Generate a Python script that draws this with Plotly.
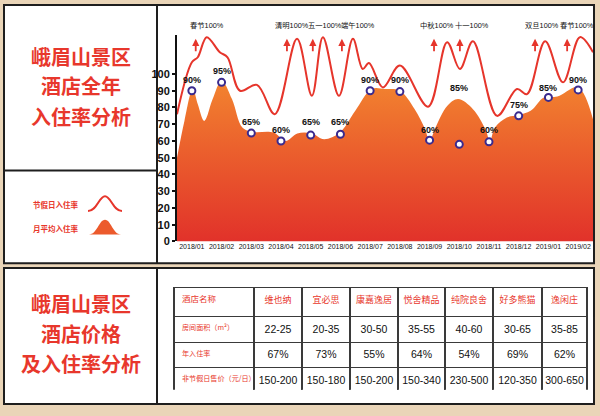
import plotly.graph_objects as go

# ---------------- data ----------------
months = ["2018/01", "2018/02", "2018/03", "2018/04", "2018/05", "2018/06", "2018/07",
          "2018/08", "2018/09", "2018/10", "2018/11", "2018/12", "2019/01", "2019/02"]
avg_labels = [90, 95, 65, 60, 65, 65, 90, 90, 60, 85, 60, 75, 85, 90]
marker_vals = [90, 95, 64.7, 60, 63.5, 64, 90, 89.5, 60.5, 58, 59.5, 75, 86, 90.5]

# monthly average curve (month index units)
area_x = [-0.5, -0.25, 0.03, 0.2, 0.42, 0.7, 1.0, 1.35, 1.7, 2.05, 2.75, 3.15, 3.55, 4.04,
          4.45, 4.98, 5.5, 6.05, 6.5, 7.0, 7.5, 7.85, 8.0, 8.2, 8.6, 8.96, 9.46, 9.88,
          10.03, 10.2, 10.6, 11.0, 11.4, 11.85, 12.3, 13.0, 13.5]
area_y = [50, 72, 91, 82, 72, 85, 96, 85, 68, 65.5, 65, 60, 64.5, 64.5,
          61, 65, 78, 91, 91, 90, 79, 67, 60, 68, 81, 85, 79, 67,
          60, 68, 74, 75.5, 78, 86, 86.5, 92, 73]

# holiday occupancy curve
holiday_x = [-0.5, 0.0, 0.2, 0.5, 0.94, 1.2, 1.62, 2.19, 2.79, 3.54, 4.04, 4.41, 4.95, 5.42,
             5.75, 5.96, 6.43, 7.0, 7.95, 8.59, 9.02, 9.46, 10.27, 10.94, 11.28, 11.89,
             12.49, 13.06, 13.5]
holiday_y = [76, 107, 110, 122, 113, 110, 90, 93.5, 76, 121, 87, 122, 87, 121,
             103, 106.5, 92, 105, 80.5, 119, 103, 119.5, 75, 91, 88, 119.5,
             95, 122, 113]

holiday_names = ["春节", "清明", "五一", "端午", "中秋", "十一", "双旦", "春节"]
holiday_label_x = [0.5, 3.37, 4.48, 5.6, 8.25, 9.43, 11.78, 12.96]
holiday_arrow_x = [0.13, 3.2, 4.07, 5.05, 8.15, 9.02, 11.55, 12.63]

hotels = ["维也纳", "宜必思", "康嘉逸居", "悦舍精品", "纯院良舍", "好多熊猫", "逸闲庄"]
row_labels = ["房间面积（m²）", "年入住率", "非节假日售价（元/日）"]
room_area = ["22-25", "20-35", "30-50", "35-55", "40-60", "30-65", "35-85"]
occupancy = ["67%", "73%", "55%", "64%", "54%", "69%", "62%"]
price = ["150-200", "150-180", "150-200", "150-340", "230-500", "120-350", "300-650"]

title_top = ["峨眉山景区", "酒店全年", "入住率分析"]
title_bottom = ["峨眉山景区", "酒店价格", "及入住率分析"]
legend_texts = ["节假日入住率", "月平均入住率"]

# ---------------- styling ----------------
W, H = 600, 416
RED = "#E6352B"
TXT_RED = "#E8372C"
NARROW = "Liberation Sans Narrow, Liberation Sans, Arial, sans-serif"
CJK = "Noto Sans CJK SC, sans-serif"


def px(x):
    return x / W


def py(y):
    return 1 - y / H


fig = go.Figure()

fig.add_trace(go.Scatter(
    x=area_x, y=area_y, mode="lines",
    line=dict(color="rgba(0,0,0,0)", width=0, shape="spline", smoothing=1),
    fill="tozeroy",
    fillgradient=dict(type="vertical", colorscale=[[0, "#E1302A"], [1, "#F2822F"]],
                      start=0, stop=95),
    hoverinfo="skip", showlegend=False))

fig.add_trace(go.Scatter(
    x=holiday_x, y=holiday_y, mode="lines",
    line=dict(color=RED, width=2, shape="spline", smoothing=1),
    hoverinfo="skip", showlegend=False))

fig.add_trace(go.Scatter(
    x=list(range(len(months))), y=marker_vals, mode="markers",
    marker=dict(size=7, color="white", line=dict(color="#3A2A8E", width=2)),
    showlegend=False, cliponaxis=False))

# table
fig.add_trace(go.Table(
    domain=dict(x=[px(174), px(587)], y=[py(396), py(292)]),
    columnwidth=[80, 48, 48, 48, 47, 48, 49, 45],
    header=dict(values=["酒店名称"] + hotels,
                align=["left"] + ["center"] * 7,
                font=dict(family=CJK, size=[8.5] + [9] * 7, color=TXT_RED),
                fill_color="white", line=dict(color="#3a3a3a", width=1.3), height=29),
    cells=dict(values=[row_labels] + [[a, o, p] for a, o, p in zip(room_area, occupancy, price)],
               align=["left"] + ["center"] * 7,
               font=dict(family=[CJK] + [NARROW] * 7,
                         size=[7.1] + [10.5] * 7,
                         color=[TXT_RED] + ["#111"] * 7),
               fill_color="white", line=dict(color="#3a3a3a", width=1.3), height=25.5)))

annotations = []
for i, v in enumerate(avg_labels):
    annotations.append(dict(x=i, y=v, xref="x", yref="y", text=f"{v}%", showarrow=False,
                            yshift=11, font=dict(family=NARROW, size=9, color="#111", weight="bold")))
for name, lx in zip(holiday_names, holiday_label_x):
    annotations.append(dict(x=lx, y=py(26), xref="x", yref="paper", xanchor="center",
                            yanchor="middle", text=f"{name}100%", showarrow=False,
                            font=dict(family=NARROW + ", " + CJK, size=7.3, color="#111")))
for ax_ in holiday_arrow_x:
    annotations.append(dict(x=ax_, y=121, xref="x", yref="y", text="", showarrow=True,
                            ax=0, ay=14, arrowhead=2, arrowsize=0.8, arrowwidth=1.8, arrowcolor=RED))
for k, t in enumerate(title_top):
    annotations.append(dict(x=px(80.5), y=py([57, 87, 118][k]), xref="paper", yref="paper",
                            xanchor="center", yanchor="middle", text=t, showarrow=False,
                            font=dict(family=CJK, size=20, color=TXT_RED, weight="bold")))
for k, t in enumerate(title_bottom):
    annotations.append(dict(x=px(80.5), y=py([308, 338, 369][k]), xref="paper", yref="paper",
                            xanchor="center", yanchor="middle", text=t, showarrow=False,
                            font=dict(family=CJK, size=20, color=TXT_RED, weight="bold")))
for k, t in enumerate(legend_texts):
    annotations.append(dict(x=px(56), y=py([207, 232][k]), xref="paper", yref="paper",
                            xanchor="center", yanchor="middle", text=t, showarrow=False,
                            font=dict(family=CJK, size=7.5, color=TXT_RED, weight="bold")))


def rect(x0, y0, x1, y1):
    return dict(type="rect", xref="paper", yref="paper", x0=px(x0), x1=px(x1), y0=py(y1), y1=py(y0),
                fillcolor="white", line=dict(color="#1e1e1e", width=2), layer="below")


def line(x0, y0, x1, y1):
    return dict(type="line", xref="paper", yref="paper", x0=px(x0), x1=px(x1), y0=py(y0), y1=py(y1),
                line=dict(color="#1e1e1e", width=2), layer="below")


def path(pts, closed=False):
    s = "M {:.4f} {:.4f}".format(px(pts[0][0]), py(pts[0][1]))
    for i in range(1, len(pts), 3):
        s += " C " + ", ".join("{:.4f} {:.4f}".format(px(a), py(b)) for a, b in pts[i:i + 3])
    if closed:
        s += " Z"
    return s


shapes = [
    rect(4, 5, 594, 267), rect(4, 272, 594, 410),
    line(157, 5, 157, 267), line(4, 173, 157, 173), line(157, 272, 157, 410),
    dict(type="path", xref="paper", yref="paper",
         path=path([(88, 214), (97, 214), (99, 199), (105, 199), (111, 199), (113, 214), (122, 214)]),
         line=dict(color=RED, width=2)),
    dict(type="path", xref="paper", yref="paper",
         path=path([(89, 238), (97, 238), (99, 223), (105, 223), (111, 223), (113, 238), (121, 238)], True),
         fillcolor="#EC5A2C", line=dict(width=0)),
]

fig.update_layout(
    width=W, height=H, margin=dict(l=0, r=0, t=0, b=0),
    paper_bgcolor="#EAD5B8", plot_bgcolor="rgba(0,0,0,0)",
    showlegend=False,
    xaxis=dict(domain=[px(177), px(593)], range=[-0.5, 13.5], tickvals=list(range(len(months))),
               ticktext=months, showgrid=False, zeroline=False, showline=False, ticks="",
               tickfont=dict(family=NARROW, size=7, color="#111")),
    yaxis=dict(domain=[py(245), py(36)], range=[0, 123], tickvals=list(range(0, 101, 10)),
               showgrid=False, zeroline=False, showline=True, linecolor="#111", linewidth=2,
               ticks="outside", ticklen=3, tickwidth=2, tickcolor="#111",
               tickfont=dict(family=NARROW, size=11, color="#111", weight="bold")),
    annotations=annotations, shapes=shapes,
)

fig.write_html("out.html")
